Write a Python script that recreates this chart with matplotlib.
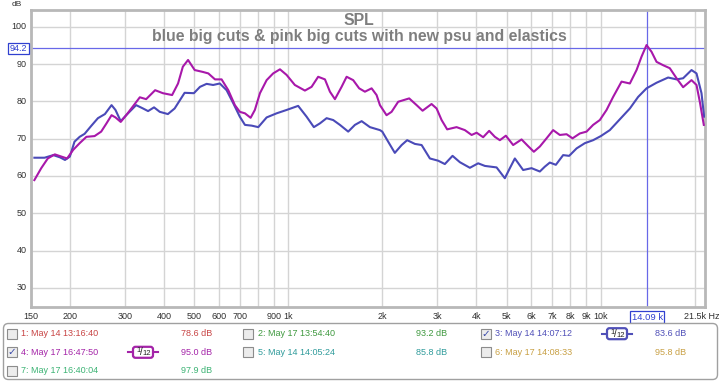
import matplotlib
matplotlib.use("Agg")
import matplotlib.pyplot as plt
from matplotlib.patches import Rectangle, FancyBboxPatch
from matplotlib.transforms import Affine2D
from matplotlib.lines import Line2D

plt.rcParams['font.family'] = ['Liberation Sans', 'DejaVu Sans']

# ---------------- data ----------------
blue_freq = [154, 166, 177, 186, 193, 200, 207, 215, 223, 234, 246, 259, 272, 280, 291, 303,
             326, 343, 356, 372, 388, 412, 433, 466, 499, 522, 548, 575, 604, 635, 667, 700,
             727, 764, 802, 853, 918, 988, 1076, 1145, 1208, 1263, 1327, 1393, 1464, 1556,
             1635, 1718, 1826, 1966, 2000, 2089, 2194, 2307, 2403, 2544, 2673, 2841, 3020,
             3172, 3357, 3543, 3815, 4055, 4261, 4645, 4936, 5122, 5314, 5649, 6010, 6389,
             6628, 6876, 7189, 7586, 7930, 8376, 8901, 9462, 10014, 10700, 11520, 12403,
             13183, 14026, 15100, 16444, 17500, 18365, 19537, 20270, 21030, 21440]
blue_db = [64.9, 64.9, 65.6, 65.0, 64.3, 65.2, 69.2, 70.5, 71.3, 73.4, 75.5, 76.6, 79.0, 77.7,
           74.7, 76.3, 79.0, 78.1, 77.4, 78.4, 77.2, 76.6, 78.1, 82.3, 82.2, 83.9, 84.7, 84.4,
           84.8, 83.0, 79.5, 75.9, 73.7, 73.5, 73.1, 75.7, 76.8, 77.7, 78.8, 75.9, 73.1, 74.1,
           75.5, 75.0, 73.7, 71.9, 73.7, 74.7, 73.1, 72.3, 71.9, 69.2, 66.2, 68.3, 69.6, 68.6,
           68.3, 64.7, 64.1, 63.2, 65.4, 63.7, 62.2, 63.4, 62.7, 62.3, 59.4, 62.1, 64.7, 61.6,
           62.1, 61.2, 62.5, 63.6, 63.0, 65.6, 65.4, 67.4, 68.8, 69.6, 70.7, 72.3, 75.2, 78.1,
           81.2, 83.5, 85.0, 86.4, 85.9, 86.2, 88.4, 87.5, 82.2, 75.9]

pink_freq = [154, 162, 170, 179, 188, 196, 205, 215, 226, 240, 252, 262, 272, 280, 291, 303,
             318, 335, 351, 375, 397, 425, 444, 460, 478, 502, 533, 555, 583, 612, 643, 675,
             700, 727, 758, 782, 812, 853, 895, 941, 988, 1050, 1131, 1188, 1247, 1311, 1360,
             1411, 1482, 1538, 1614, 1687, 1760, 1849, 1918, 1966, 2064, 2142, 2249, 2439,
             2576, 2692, 2876, 2985, 3097, 3227, 3458, 3676, 3864, 4009, 4207, 4398, 4586,
             4758, 4973, 5248, 5583, 5861, 6112, 6389, 6713, 7047, 7402, 7778, 8130, 8578,
             9015, 9462, 9940, 10445, 10965, 11666, 12403, 13030, 13518, 14026, 14550, 15100,
             15850, 16647, 17500, 18365, 19537, 20270, 20770, 21390]
pink_db = [58.9, 62.1, 64.7, 65.8, 65.2, 64.7, 67.0, 68.8, 70.5, 70.7, 71.9, 74.1, 76.3, 75.7,
           74.5, 76.3, 78.6, 81.1, 80.6, 83.0, 82.2, 81.7, 84.8, 89.3, 91.1, 88.4, 87.9, 87.5,
           85.9, 85.9, 83.0, 79.0, 77.2, 76.8, 75.6, 77.7, 82.2, 85.7, 87.5, 88.6, 87.1, 84.4,
           82.9, 83.9, 86.6, 85.9, 82.6, 80.6, 83.9, 86.6, 85.7, 83.5, 82.6, 83.5, 81.7, 79.0,
           76.3, 77.2, 79.9, 80.8, 79.0, 77.5, 79.3, 78.1, 75.0, 72.5, 73.1, 72.3, 71.0, 71.6,
           70.4, 72.1, 70.5, 69.6, 70.8, 68.3, 69.8, 68.0, 66.5, 67.9, 70.1, 72.3, 71.0, 71.2,
           70.1, 71.4, 71.9, 73.7, 75.0, 77.7, 81.2, 85.3, 84.8, 88.4, 92.0, 95.1, 93.3, 90.6,
           89.7, 88.9, 86.2, 83.8, 85.7, 84.4, 79.9, 73.7]

title = "SPL"
subtitle = "blue big cuts & pink big cuts with new psu and elastics"

x_ticks = [150, 200, 300, 400, 500, 600, 700, 800, 900, 1000, 2000, 3000, 4000, 5000, 6000,
           7000, 8000, 9000, 10000, 20000]
x_labels = ["150", "200", "300", "400", "500", "600", "700", "", "900", "1k", "2k", "3k", "4k",
            "5k", "6k", "7k", "8k", "9k", "10k", ""]
y_ticks = [30, 40, 50, 60, 70, 80, 90, 100]

cursor_freq = 14090
cursor_db = 94.2

legend_labels = ["1: May 14 13:16:40", "2: May 17 13:54:40", "3: May 14 14:07:12",
                 "4: May 17 16:47:50", "5: May 14 14:05:24", "6: May 17 14:08:33",
                 "7: May 17 16:40:04"]
legend_values = ["78.6 dB", "93.2 dB", "83.6 dB", "95.0 dB", "85.8 dB", "95.8 dB", "97.9 dB"]
legend_checked = [False, False, True, True, False, False, False]
legend_colors = ["#c84444", "#3f993f", "#5050b8", "#a424a8", "#2f9b9b", "#c8a044", "#3cb374"]

BLUE = "#4a4ab8"
PINK = "#a818aa"
CURSOR = "#6868e8"
TXT = "#303030"
FS = 6.5

# ---------------- figure ----------------
W, H = 719, 382
fig = plt.figure(figsize=(W / 100, H / 100), dpi=100)
fig.patch.set_facecolor("white")

def fx(x):
    return x / W

def fy(y):
    return 1 - y / H

L, R, T, B = 30.8, 704.5, 10.0, 307.3
ax = fig.add_axes([fx(L), fy(B), (R - L) / W, (B - T) / H])
ax.set_xscale("log")
ax.set_xlim(150, 21500)
ax.set_ylim(24.8, 104.5)

ax.set_xticks(x_ticks)
ax.set_xticklabels([])
ax.xaxis.set_minor_locator(matplotlib.ticker.NullLocator())
ax.set_yticks(y_ticks)
ax.set_yticklabels([])
ax.tick_params(length=0)
ax.grid(True, color="#d4d4d4", linewidth=1.0)
for s in ax.spines.values():
    s.set_color("#b8b8b8")
    s.set_linewidth(2.0)

ax.axhline(cursor_db, color=CURSOR, linewidth=0.9, zorder=2)
ax.axvline(cursor_freq, color=CURSOR, linewidth=0.9, zorder=2)

ax.plot(blue_freq, blue_db, color=BLUE, linewidth=1.5, zorder=3, solid_joinstyle="round")
ax.plot(pink_freq, pink_db, color=PINK, linewidth=1.5, zorder=4, solid_joinstyle="round")

# tick labels (x)
trans_x = matplotlib.transforms.blended_transform_factory(ax.transData, fig.transFigure)
for f, lab in zip(x_ticks, x_labels):
    if lab:
        ax.text(f, fy(316.5), lab, transform=trans_x, ha="center", va="center",
                fontsize=FS, color=TXT)
fig.text(fx(684), fy(316.5), "21.5k Hz", ha="left", va="center", fontsize=FS, color=TXT)

# tick labels (y)
trans_y = matplotlib.transforms.blended_transform_factory(fig.transFigure, ax.transData)
for v in y_ticks:
    ax.text(fx(26.5), v, str(v), transform=trans_y, ha="right", va="center",
            fontsize=FS, color=TXT)
fig.text(fx(12), fy(4.5), "dB", ha="left", va="center", fontsize=6, color=TXT)

# cursor labels
ax.text(fx(18.5), cursor_db, "94.2", transform=trans_y, ha="center", va="center", fontsize=FS,
        color="#3040d0",
        bbox=dict(boxstyle="square,pad=0.15", facecolor="white", edgecolor="#3040d0", linewidth=0.9))
ax.text(cursor_freq, fy(317), "14.09 k", transform=trans_x, ha="center", va="center",
        fontsize=FS + 0.3, color="#3040d0",
        bbox=dict(boxstyle="square,pad=0.18", facecolor="white", edgecolor="#3040d0", linewidth=0.9))

# titles
fig.text(fx(359), fy(20.5), title, ha="center", va="center", fontsize=11.4, fontweight="bold",
         color="#7e7e7e")
fig.text(fx(359), fy(36), subtitle, ha="center", va="center", fontsize=11.4, fontweight="bold",
         color="#7e7e7e")

# ---------------- legend panel ----------------
pix = Affine2D().scale(1, -1).translate(0, H)
panel = FancyBboxPatch((3.5, 323.5), 714, 56, boxstyle="round,pad=0,rounding_size=5",
                       facecolor="white", edgecolor="#a0a0a0", linewidth=1.0,
                       transform=pix, figure=fig, zorder=0)
fig.patches.append(panel)

rows_y = [333.7, 352.3, 370.7]
col_box = [12, 248, 486]
col_text = [21, 258, 495]
col_val = [212, 447, 686]
col_icon = [143, 380, 617]

for i, (lab, val, chk, col) in enumerate(zip(legend_labels, legend_values, legend_checked,
                                             legend_colors)):
    r, c = divmod(i, 3)
    y = rows_y[r]
    bx = col_box[c]
    box = Rectangle((bx - 5, y - 5), 10, 10, facecolor="#ececec", edgecolor="#8c8c8c",
                    linewidth=0.8, transform=pix, figure=fig, zorder=1)
    fig.patches.append(box)
    if chk:
        fig.text(fx(bx), fy(y), "\u2713", ha="center", va="center", fontsize=7.5,
                 color="#3848a8", family="DejaVu Sans")
        ix = col_icon[c]
        fig.lines.append(Line2D([ix - 15, ix + 15], [y, y], color=col, linewidth=1.5,
                                transform=pix, figure=fig, zorder=1.5))
        icon = FancyBboxPatch((ix - 10, y - 5.5), 20, 11, boxstyle="round,pad=0,rounding_size=2.5",
                              facecolor="white", edgecolor=col, linewidth=1.6,
                              transform=pix, figure=fig, zorder=2)
        fig.patches.append(icon)
        fig.text(fx(ix - 4.5), fy(y - 1.5), "1", ha="center", va="center", fontsize=5.5,
                 color="#202020", zorder=3)
        fig.text(fx(ix - 1.5), fy(y), "/", ha="center", va="center", fontsize=7,
                 color="#202020", zorder=3)
        fig.text(fx(ix + 3.5), fy(y + 1.5), "12", ha="center", va="center", fontsize=5.5,
                 color="#202020", zorder=3)
    fig.text(fx(col_text[c]), fy(y), lab, ha="left", va="center", fontsize=FS, color=col)
    fig.text(fx(col_val[c]), fy(y), val, ha="right", va="center", fontsize=FS, color=col)

fig.savefig("out.png", dpi=100, facecolor="white")
